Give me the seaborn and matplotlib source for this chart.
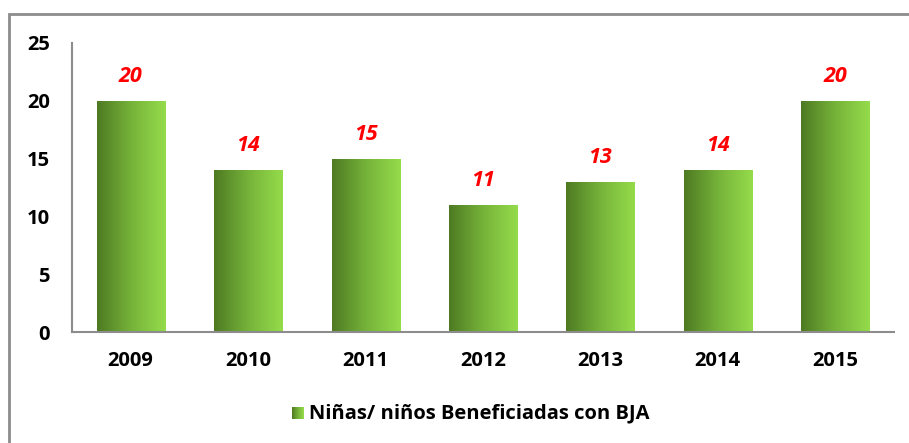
import numpy as np
import pandas as pd
import matplotlib
matplotlib.use('Agg')
import matplotlib.pyplot as plt
import seaborn as sns
from matplotlib.colors import LinearSegmentedColormap
from matplotlib.patches import Rectangle

# Data
YEARS = ['2009', '2010', '2011', '2012', '2013', '2014', '2015']
BENEFICIADOS = [20, 14, 15, 11, 13, 14, 20]
SERIES = 'Niñas/ niños Beneficiadas con BJA'

df = pd.DataFrame({'Año': YEARS, 'Valor': BENEFICIADOS})

sns.set_style('white')
plt.rcParams['font.family'] = ['Open Sans', 'DejaVu Sans']

green = LinearSegmentedColormap.from_list('green', ['#4e7a22', '#76b33a', '#95dc4b'])
grad = np.linspace(0, 1, 256).reshape(1, -1)

fig = plt.figure(figsize=(9.09, 4.43), dpi=100)
ax = fig.add_axes([72 / 909, 1 - 332 / 443, (894 - 72) / 909, (332 - 43) / 443])

sns.barplot(data=df, x='Año', y='Valor', ax=ax, width=0.58, color='#76b33a')

# gradient fill for each bar
for p in list(ax.patches):
    x0, y0 = p.get_x(), p.get_y()
    w, h = p.get_width(), p.get_height()
    im = ax.imshow(grad, cmap=green, aspect='auto', extent=[x0, x0 + w, y0, y0 + h], zorder=2)
    im.set_clip_path(p)
    p.set_facecolor('none')
    p.set_edgecolor('none')

for i, v in enumerate(BENEFICIADOS):
    ax.text(i, v + 1.2, str(v), ha='center', va='bottom', color='#ff0000',
            fontsize=15.5, fontweight='bold', fontstyle='italic')

ax.set_xlim(-0.5, 6.5)
ax.set_ylim(0, 25)
ax.set_yticks([0, 5, 10, 15, 20, 25])
ax.set_xlabel('')
ax.set_ylabel('')
for s in ['top', 'right']:
    ax.spines[s].set_visible(False)
for s in ['left', 'bottom']:
    ax.spines[s].set_color('#8c8c8c')
    ax.spines[s].set_linewidth(1.5)
ax.tick_params(axis='both', length=0, labelsize=14.5, labelcolor='black')
ax.tick_params(axis='y', pad=16)
ax.tick_params(axis='x', pad=14)
for lbl in ax.get_xticklabels() + ax.get_yticklabels():
    lbl.set_fontweight('bold')

# legend
lx, ly = 292 / 909, 1 - 413 / 443
lax = fig.add_axes([lx, ly - 6 / 443, 12 / 909, 12 / 443])
lax.imshow(grad, cmap=green, aspect='auto')
lax.axis('off')
fig.text(lx + 17 / 909, ly, SERIES, ha='left', va='center', fontsize=14.5,
         fontweight='bold', color='black')

# outer frame
fig.patches.append(Rectangle((9 / 909, -0.1), 1.2, 1 - 14 / 443 + 0.1, transform=fig.transFigure,
                             fill=False, edgecolor='#8c8c8c', linewidth=2))

fig.savefig('out.png', dpi=100)
